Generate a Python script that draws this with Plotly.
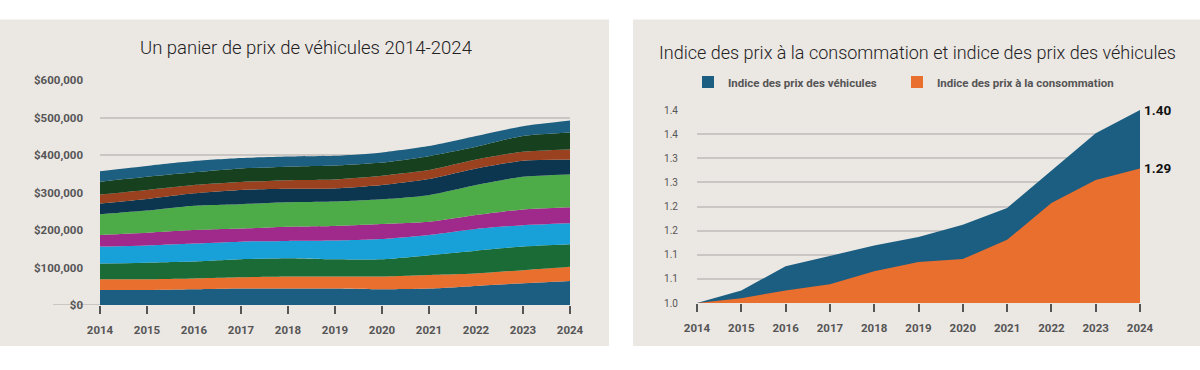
import plotly.graph_objects as go

W, H = 1200, 370

# ---------------- Data ----------------
years = [2014, 2015, 2016, 2017, 2018, 2019, 2020, 2021, 2022, 2023, 2024]

# Left chart: stacked basket of vehicle prices (bottom to top)
layer_names = ["Véhicule 1", "Véhicule 2", "Véhicule 3", "Véhicule 4", "Véhicule 5",
               "Véhicule 6", "Véhicule 7", "Véhicule 8", "Véhicule 9", "Véhicule 10"]
layer_values = [
    [40000, 40000, 42000, 44000, 44000, 44000, 42000, 44000, 51000, 58000, 64000],
    [29000, 29000, 29000, 30000, 32000, 32000, 34000, 36000, 33000, 35000, 38000],
    [42000, 44000, 45000, 48000, 49000, 46000, 46000, 53000, 61000, 63000, 60000],
    [45000, 46000, 48000, 47000, 46000, 50000, 54000, 54000, 58000, 57000, 56000],
    [31000, 34000, 36000, 35000, 38000, 39000, 40000, 35000, 37000, 42000, 43000],
    [55000, 59000, 65000, 65000, 65000, 65000, 66000, 71000, 80000, 87000, 87000],
    [29000, 31000, 33000, 38000, 36000, 35000, 38000, 43000, 44000, 43000, 40000],
    [24000, 24000, 22000, 21000, 23000, 24000, 25000, 24000, 24000, 24000, 27000],
    [34000, 35000, 34000, 36000, 36000, 37000, 35000, 37000, 34000, 42000, 45000],
    [28000, 29000, 30000, 28000, 27000, 26000, 27000, 27000, 29000, 26000, 32000],
]
layer_colors = ["#1b5e82", "#e96f2f", "#1b6b37", "#18a0d8", "#a02a8c",
                "#4dab48", "#0c3650", "#9a4220", "#17401f", "#1c5f80"]

# Right chart: indices
vehicle_index = [1.000, 1.026, 1.076, 1.097, 1.119, 1.137, 1.162, 1.197, 1.274, 1.352, 1.400]
cpi_index = [1.000, 1.010, 1.026, 1.039, 1.066, 1.085, 1.091, 1.131, 1.207, 1.255, 1.279]
end_labels = ["1.40", "1.29"]
right_tickvals = [1.0, 1.05, 1.10, 1.15, 1.20, 1.25, 1.30, 1.35, 1.40]
right_ticktext = ["1.0", "1.1", "1.1", "1.2", "1.2", "1.3", "1.3", "1.4", "1.4"]

left_title = "Un panier de prix de véhicules 2014-2024"
right_title = "Indice des prix à la consommation et indice des prix des véhicules"
legend_names = ["Indice des prix des véhicules", "Indice des prix à la consommation"]
legend_colors = ["#1b5e82", "#e96f2f"]

BG = "#ebe7e3"
GRID = "#c9c6c3"
TICKC = "#555555"

fig = go.Figure()

# Left stacked areas
for name, vals, col in zip(layer_names, layer_values, layer_colors):
    fig.add_trace(go.Scatter(
        x=years, y=vals, name=name, stackgroup="basket", mode="lines",
        line=dict(width=0, color=col, shape="spline", smoothing=0.6),
        fillcolor=col, showlegend=False, xaxis="x", yaxis="y"))

# Right areas
fig.add_trace(go.Scatter(x=years, y=vehicle_index, mode="lines", fill="tozeroy",
                         line=dict(width=0, color=legend_colors[0]), fillcolor=legend_colors[0],
                         showlegend=False, xaxis="x2", yaxis="y2"))
fig.add_trace(go.Scatter(x=years, y=cpi_index, mode="lines", fill="tozeroy",
                         line=dict(width=0, color=legend_colors[1]), fillcolor=legend_colors[1],
                         showlegend=False, xaxis="x2", yaxis="y2"))
# Legend entries (one legend box each)
for nm, col, lg in zip(legend_names, legend_colors, ["legend", "legend2"]):
    fig.add_trace(go.Scatter(x=[None], y=[None], mode="markers", name=nm,
                             marker=dict(symbol="square", size=16, color=col),
                             xaxis="x2", yaxis="y2", legend=lg))


def px2x(p):
    return p / W


def px2y(p):
    return 1 - p / H


tickfont = dict(family="Roboto, Arial, sans-serif", size=11.5, color=TICKC, weight="bold")
legfont = dict(family="Roboto, Arial, sans-serif", size=11.5, color=TICKC, weight="bold")

fig.update_layout(
    width=W, height=H,
    margin=dict(l=0, r=0, t=0, b=0, autoexpand=False),
    paper_bgcolor="white",
    plot_bgcolor="rgba(0,0,0,0)",
    showlegend=True,
    legend=dict(orientation="h", x=px2x(688), y=px2y(82), xanchor="left", yanchor="middle",
                bgcolor="rgba(0,0,0,0)", font=legfont, itemsizing="constant", itemwidth=30),
    legend2=dict(orientation="h", x=px2x(897), y=px2y(82), xanchor="left", yanchor="middle",
                 bgcolor="rgba(0,0,0,0)", font=legfont, itemsizing="constant", itemwidth=30),
    xaxis=dict(domain=[px2x(100), px2x(570)], range=[2014, 2024], tickmode="array",
               tickvals=years, ticks="outside", ticklen=8, tickwidth=1.5, tickcolor=TICKC,
               showgrid=False, zeroline=False, showline=False, tickfont=tickfont,
               ticklabelstandoff=6, fixedrange=True, automargin=False),
    yaxis=dict(domain=[px2y(305), px2y(80)], range=[0, 600000], dtick=100000,
               tickprefix="$", tickformat=",", showgrid=True, gridcolor=GRID, gridwidth=2,
               zeroline=False, showline=False, tickfont=tickfont, ticklabelstandoff=16,
               fixedrange=True, automargin=False),
    xaxis2=dict(domain=[px2x(697), px2x(1140)], range=[2014, 2024], tickmode="array",
                tickvals=years, ticks="outside", ticklen=8, tickwidth=1.5, tickcolor=TICKC,
                showgrid=False, zeroline=False, showline=False, tickfont=tickfont,
                ticklabelstandoff=6, anchor="y2", fixedrange=True, automargin=False),
    yaxis2=dict(domain=[px2y(303), px2y(110)], range=[1.0, 1.4], tickmode="array",
                tickvals=right_tickvals, ticktext=right_ticktext, showgrid=True,
                gridcolor=GRID, gridwidth=2, zeroline=False, showline=False,
                tickfont=dict(family="Roboto, Arial, sans-serif", size=10, color=TICKC),
                ticklabelstandoff=18, anchor="x2", fixedrange=True, automargin=False),
)

shapes = [
    dict(type="rect", xref="paper", yref="paper", x0=0, x1=px2x(609), y0=px2y(346), y1=px2y(19.5),
         fillcolor=BG, line=dict(width=0), layer="below"),
    dict(type="rect", xref="paper", yref="paper", x0=px2x(633), x1=1, y0=px2y(346), y1=px2y(19.5),
         fillcolor=BG, line=dict(width=0), layer="below"),
    dict(type="line", xref="paper", yref="y", x0=px2x(53), x1=px2x(100), y0=0, y1=0,
         line=dict(color=GRID, width=2), layer="below"),
]
fig.update_layout(shapes=shapes)

annotations = [
    dict(text=left_title, xref="paper", yref="paper", x=px2x(306), y=px2y(48),
         xanchor="center", yanchor="middle", showarrow=False,
         font=dict(family="Roboto, Arial, sans-serif", size=18.5, color="#222222", weight=300)),
    dict(text=right_title, xref="paper", yref="paper", x=px2x(917), y=px2y(52),
         xanchor="center", yanchor="middle", showarrow=False,
         font=dict(family="Roboto, Arial, sans-serif", size=18, color="#222222", weight=300)),
]
for lbl, series in zip(end_labels, [vehicle_index, cpi_index]):
    annotations.append(dict(text=lbl, xref="x2", yref="y2", x=years[-1], y=series[-1],
                            xanchor="left", yanchor="middle", xshift=2, showarrow=False,
                            font=dict(family="Roboto, Arial, sans-serif", size=13.5,
                                      color="#111111", weight="bold")))
fig.update_layout(annotations=annotations)

fig.write_html("out.html", config={"displayModeBar": False},
               post_script="document.body.style.margin='0';document.body.style.overflow='hidden';")
